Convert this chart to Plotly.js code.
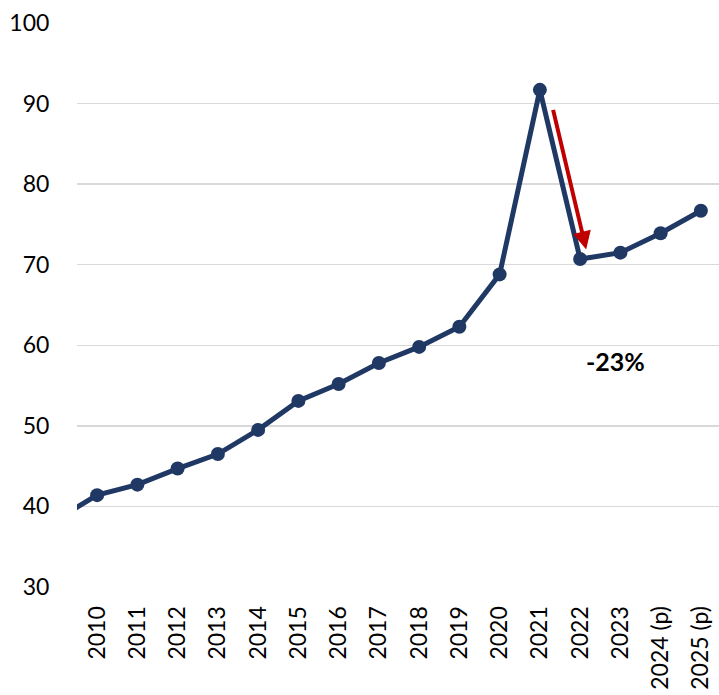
<!DOCTYPE html>
<html>
<head>
<meta charset="utf-8">
<script src="https://cdn.plot.ly/plotly-3.0.1.min.js"></script>
<style>
  body { margin: 0; background: #fff; }
  #chart { width: 719px; height: 695px; }
</style>
</head>
<body>
<div id="chart"></div>
<script>
// 2009 is only there so the line runs in from the left edge, it is outside the axis range
let years = ["2009", "2010", "2011", "2012", "2013", "2014", "2015", "2016", "2017",
  "2018", "2019", "2020", "2021", "2022", "2023", "2024 (p)", "2025 (p)"];
let values = [38.4, 41.4, 42.7, 44.7, 46.5, 49.5, 53.1, 55.2, 57.8,
  59.8, 62.3, 68.8, 91.7, 70.7, 71.5, 73.9, 76.7];

let dropLabel = "-23%";

let navy = "#203864";
let red = "#c00000";
let font = "Lato, 'Open Sans', sans-serif";

let trace = {
  x: years,
  y: values,
  type: "scatter",
  mode: "lines+markers",
  line: { color: navy, width: 5 },
  marker: { color: navy, size: 14 },
  cliponaxis: true,
  hoverinfo: "skip"
};

let layout = {
  width: 719,
  height: 695,
  margin: { l: 77, r: 0, t: 23, b: 108 },
  paper_bgcolor: "#fff",
  plot_bgcolor: "#fff",
  showlegend: false,
  font: { family: font, size: 23, color: "#000" },
  xaxis: {
    type: "category",
    range: [0.5, 16.45],
    tickangle: -90,
    showgrid: false,
    zeroline: false,
    showline: false,
    ticks: "outside",
    ticklen: 9,
    tickcolor: "rgba(0,0,0,0)",
    tickfont: { family: font, size: 23, color: "#000" }
  },
  yaxis: {
    range: [30, 100],
    dtick: 10,
    showgrid: true,
    gridcolor: "#d9d9d9",
    gridwidth: 1.5,
    zeroline: false,
    showline: false,
    ticks: "outside",
    ticklen: 22,
    tickcolor: "rgba(0,0,0,0)",
    tickfont: { family: font, size: 23, color: "#000" }
  },
  annotations: [
    {
      // arrow 2021 -> 2022
      x: 13.15, y: 71.9,
      ax: 12.32, ay: 89.4,
      xref: "x", yref: "y", axref: "x", ayref: "y",
      text: "",
      showarrow: true,
      arrowhead: 2,
      arrowsize: 0.9,
      arrowwidth: 4,
      arrowcolor: red
    },
    {
      x: 13.87, y: 58.1,
      xref: "x", yref: "y",
      text: "<b>" + dropLabel + "</b>",
      showarrow: false,
      font: { family: font, size: 25, color: "#000" }
    }
  ]
};

Plotly.newPlot("chart", [trace], layout, { staticPlot: true, displayModeBar: false });
</script>
</body>
</html>
